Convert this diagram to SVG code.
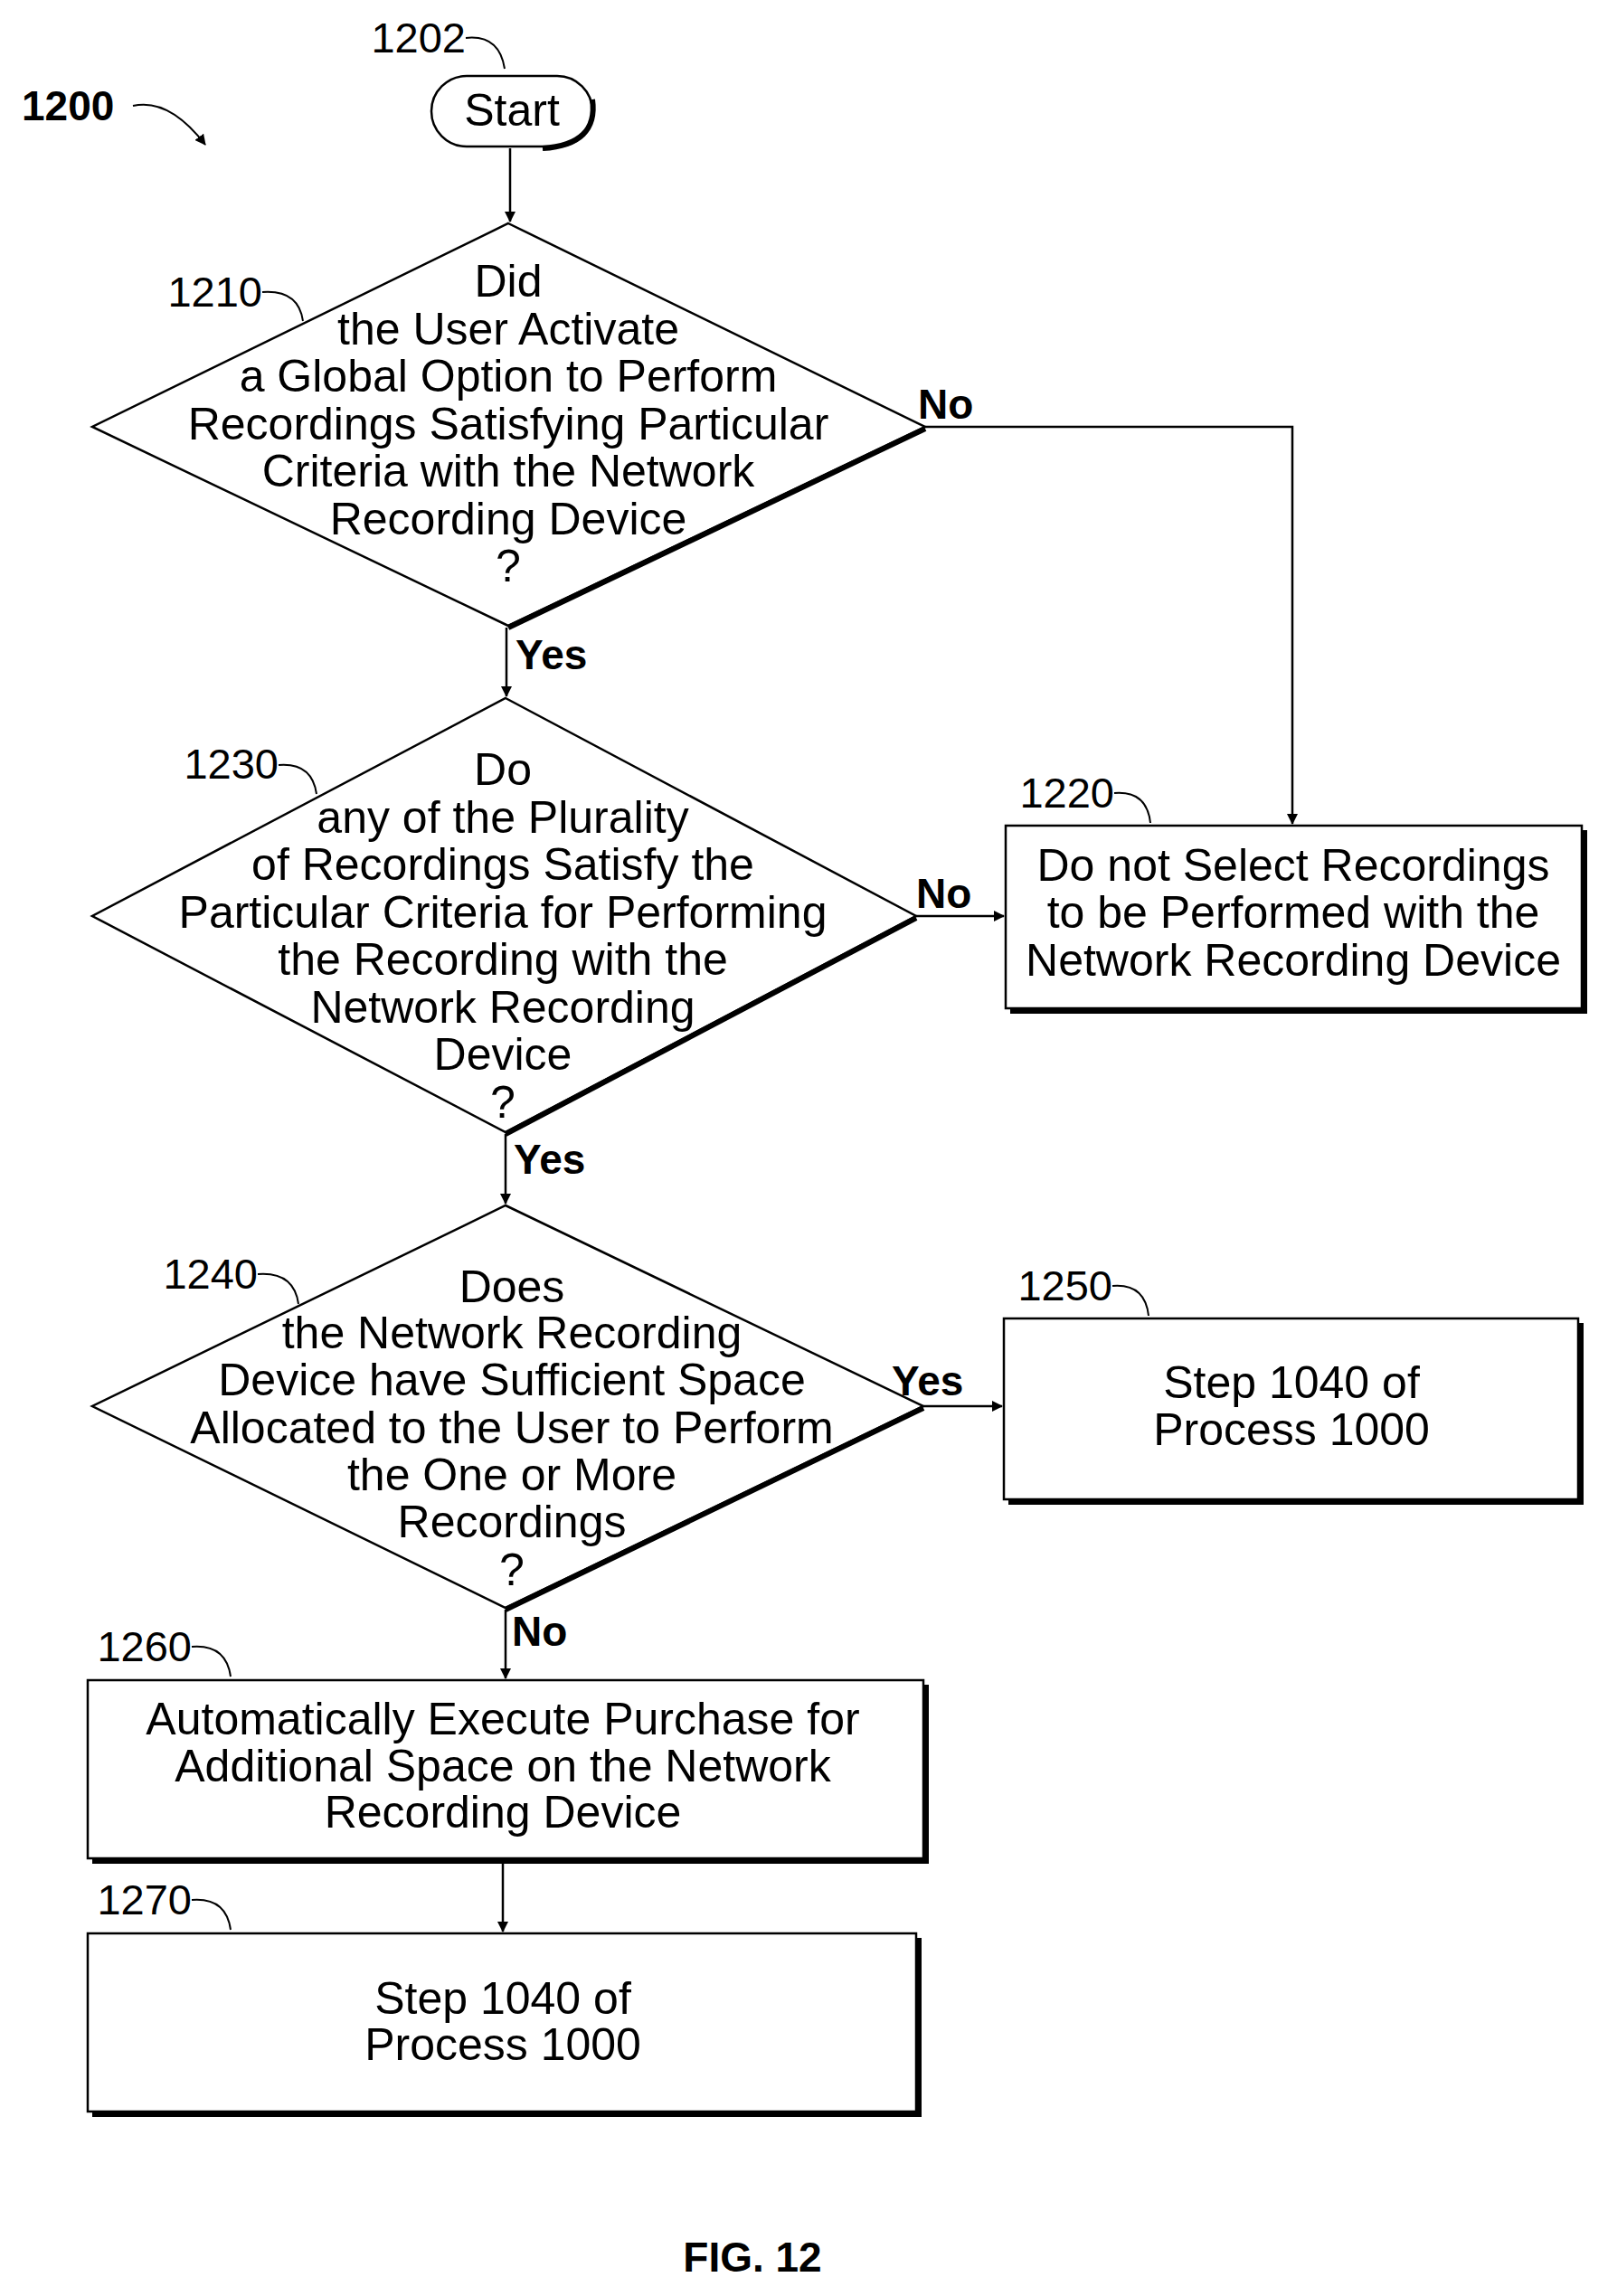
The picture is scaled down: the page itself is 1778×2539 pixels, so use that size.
<svg xmlns="http://www.w3.org/2000/svg" width="1778" height="2539" viewBox="0 0 1778 2539">
<style>
.s{fill:#fff;stroke:#000;stroke-width:2.5}
.sh{fill:none;stroke:#000;stroke-width:6}
.t{font-family:"Liberation Sans",Arial,sans-serif;font-size:50px;text-anchor:middle;fill:#000}
.r{font-family:"Liberation Sans",Arial,sans-serif;font-size:47px;text-anchor:end;fill:#000}
.b{font-family:"Liberation Sans",Arial,sans-serif;font-size:46px;font-weight:bold;fill:#000}
.c{fill:none;stroke:#000;stroke-width:2.5}
.l{fill:none;stroke:#000;stroke-width:2}
</style>
<defs><marker id="a" markerWidth="12" markerHeight="12" refX="11" refY="6" orient="auto" markerUnits="userSpaceOnUse"><path d="M0,0 L12,6 L0,12 z" fill="#000"/></marker></defs>
<text class="b" x="24" y="133" font-size="50">1200</text>
<path class="l" d="M147,117 Q187,108 227,160" marker-end="url(#a)"/>
<g id="n1202"><rect class="s" x="477" y="84" width="178" height="78" rx="39"/><path class="sh" d="M655,110 Q662,160 600,164"/><text class="t" x="566" y="139">Start</text><text class="r" x="515" y="58">1202</text><path class="l" d="M515,42 Q552,38 558,76"/></g>
<g id="n1210"><polygon class="s" points="562,247 1023,472 562,692 102,472"/><path class="sh" d="M1023,474 L562,694"/>
<text class="t"><tspan x="562" y="328">Did</tspan><tspan x="562" y="381">the User Activate</tspan><tspan x="562" y="433">a Global Option to Perform</tspan><tspan x="562" y="486">Recordings Satisfying Particular</tspan><tspan x="562" y="538">Criteria with the Network</tspan><tspan x="562" y="591">Recording Device</tspan><tspan x="562" y="643">?</tspan></text>
<text class="r" x="290" y="339">1210</text><path class="l" d="M290,323 Q330,320 335,355"/></g>
<g id="n1230"><polygon class="s" points="559,772 1013,1013 559,1252 102,1013"/><path class="sh" d="M1013,1015 L559,1254"/>
<text class="t"><tspan x="556" y="868">Do</tspan><tspan x="556" y="921">any of the Plurality</tspan><tspan x="556" y="973">of Recordings Satisfy the</tspan><tspan x="556" y="1026">Particular Criteria for Performing</tspan><tspan x="556" y="1078">the Recording with the</tspan><tspan x="556" y="1131">Network Recording</tspan><tspan x="556" y="1183">Device</tspan><tspan x="556" y="1236">?</tspan></text>
<text class="r" x="308" y="861">1230</text><path class="l" d="M308,846 Q345,843 350,878"/></g>
<g id="n1220"><rect class="s" x="1112" y="913" width="637" height="202"/><path class="sh" d="M1752,918 V1118 H1117"/>
<text class="t"><tspan x="1430" y="974">Do not Select Recordings</tspan><tspan x="1430" y="1026">to be Performed with the</tspan><tspan x="1430" y="1079">Network Recording Device</tspan></text>
<text class="r" x="1232" y="893">1220</text><path class="l" d="M1232,877 Q1268,874 1272,910"/></g>
<g id="n1240"><polygon class="s" points="559,1333 1021,1555 559,1778 102,1555"/><path class="sh" d="M1021,1557 L559,1780"/>
<text class="t"><tspan x="566" y="1440">Does</tspan><tspan x="566" y="1491">the Network Recording</tspan><tspan x="566" y="1543">Device have Sufficient Space</tspan><tspan x="566" y="1596">Allocated to the User to Perform</tspan><tspan x="566" y="1648">the One or More</tspan><tspan x="566" y="1700">Recordings</tspan><tspan x="566" y="1753">?</tspan></text>
<text class="r" x="285" y="1425">1240</text><path class="l" d="M285,1409 Q325,1406 330,1442"/></g>
<g id="n1250"><rect class="s" x="1110" y="1458" width="635" height="200"/><path class="sh" d="M1748,1463 V1661 H1115"/>
<text class="t"><tspan x="1428" y="1546">Step 1040 of</tspan><tspan x="1428" y="1598">Process 1000</tspan></text>
<text class="r" x="1230" y="1438">1250</text><path class="l" d="M1230,1422 Q1266,1419 1270,1455"/></g>
<g id="n1260"><rect class="s" x="97" y="1858" width="924" height="197"/><path class="sh" d="M1024,1863 V2058 H102"/>
<text class="t"><tspan x="556" y="1918">Automatically Execute Purchase for</tspan><tspan x="556" y="1970">Additional Space on the Network</tspan><tspan x="556" y="2021">Recording Device</tspan></text>
<text class="r" x="212" y="1837">1260</text><path class="l" d="M212,1821 Q250,1818 255,1854"/></g>
<g id="n1270"><rect class="s" x="97" y="2138" width="916" height="197"/><path class="sh" d="M1016,2143 V2338 H102"/>
<text class="t"><tspan x="556" y="2227">Step 1040 of</tspan><tspan x="556" y="2278">Process 1000</tspan></text>
<text class="r" x="212" y="2117">1270</text><path class="l" d="M212,2101 Q250,2098 255,2134"/></g>
<g id="connectors">
<path class="c" d="M564,164 V245" marker-end="url(#a)"/>
<path class="c" d="M1023,472 H1429 V911" marker-end="url(#a)"/>
<path class="c" d="M560,694 V770" marker-end="url(#a)"/>
<path class="c" d="M1013,1013 H1110" marker-end="url(#a)"/>
<path class="c" d="M559,1254 V1331" marker-end="url(#a)"/>
<path class="c" d="M1021,1555 H1108" marker-end="url(#a)"/>
<path class="c" d="M559,1780 V1856" marker-end="url(#a)"/>
<path class="c" d="M556,2058 V2136" marker-end="url(#a)"/>
<text class="b" x="1015" y="463">No</text>
<text class="b" x="570" y="740">Yes</text>
<text class="b" x="1013" y="1004">No</text>
<text class="b" x="568" y="1298">Yes</text>
<text class="b" x="986" y="1543">Yes</text>
<text class="b" x="566" y="1820">No</text>
</g>
<text class="b" x="832" y="2512" text-anchor="middle" font-size="62">FIG. 12</text>
</svg>
